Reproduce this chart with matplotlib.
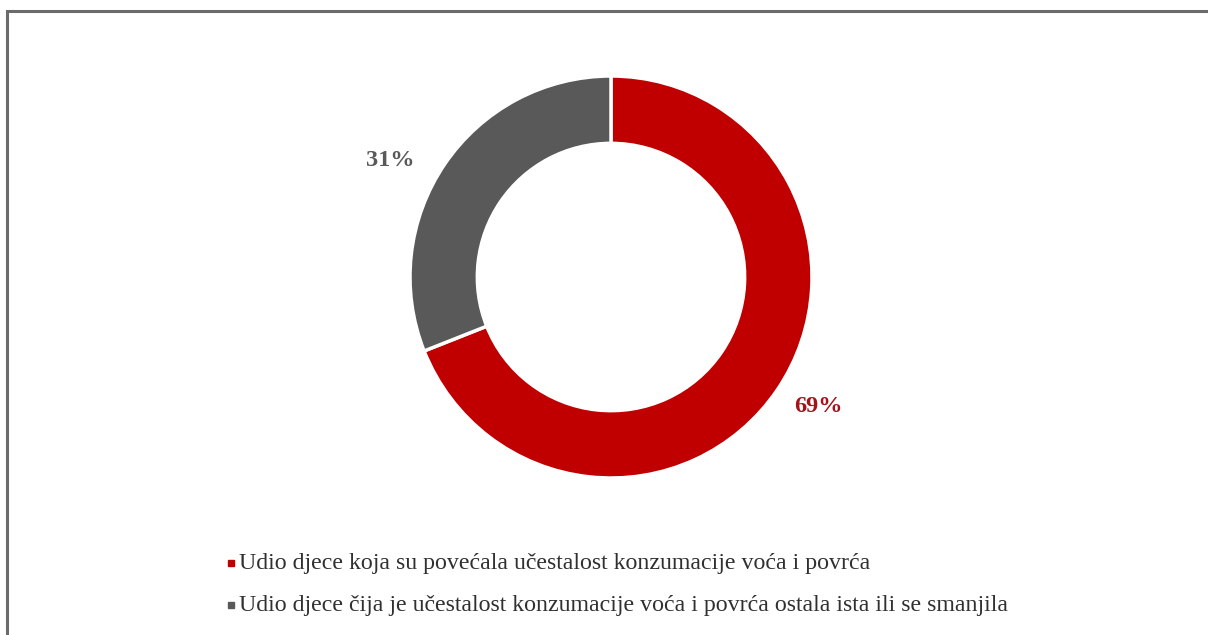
import matplotlib.pyplot as plt
from matplotlib.lines import Line2D
from matplotlib.patches import Rectangle

labels = ['Udio djece koja su povećala učestalost konzumacije voća i povrća',
          'Udio djece čija je učestalost konzumacije voća i povrća ostala ista ili se smanjila']
values = [69, 31]
colors = ['#C00000', '#595959']
label_colors = ['#A5121C', '#595959']

plt.rcParams['font.family'] = ['Liberation Serif', 'DejaVu Serif']

W, H = 1208, 635
fig = plt.figure(figsize=(W / 100, H / 100), dpi=100)

# outer frame (only top/left visible in the original)
fig.patches.append(Rectangle((7 / W, -0.1), 1.2, (H - 11) / H + 0.1,
                             transform=fig.transFigure, fill=False,
                             edgecolor='#6b6b6b', linewidth=2.2))

# donut: center (611, 277), radius 201
cx, cy, r = 611, 277, 201
ax = fig.add_axes([(cx - r) / W, 1 - (cy + r) / H, 2 * r / W, 2 * r / H])
ax.pie(values, colors=colors, startangle=90, counterclock=False,
       radius=1.0, wedgeprops=dict(width=0.335, edgecolor='white', linewidth=2.5))
ax.set_xlim(-1, 1)
ax.set_ylim(-1, 1)
ax.set_aspect('auto')
ax.axis('off')

# data labels
fig.text(390 / W, 1 - 161 / H, f'{values[1]}%', color=label_colors[1],
         fontsize=17.5, fontweight='bold', ha='center', va='center')
fig.text(818 / W, 1 - 407 / H, f'{values[0]}%', color=label_colors[0],
         fontsize=17.5, fontweight='bold', ha='center', va='center')

# legend
ys = [563, 605]
for y, lab, c in zip(ys, labels, colors):
    fig.add_artist(Line2D([231 / W], [1 - y / H], marker='s', markersize=5,
                          color=c, linestyle='none', transform=fig.transFigure))
    fig.text(239 / W, 1 - y / H, lab, fontsize=17.2, color='#303030',
             ha='left', va='center')

fig.savefig('out.png', dpi=100, facecolor='white')
